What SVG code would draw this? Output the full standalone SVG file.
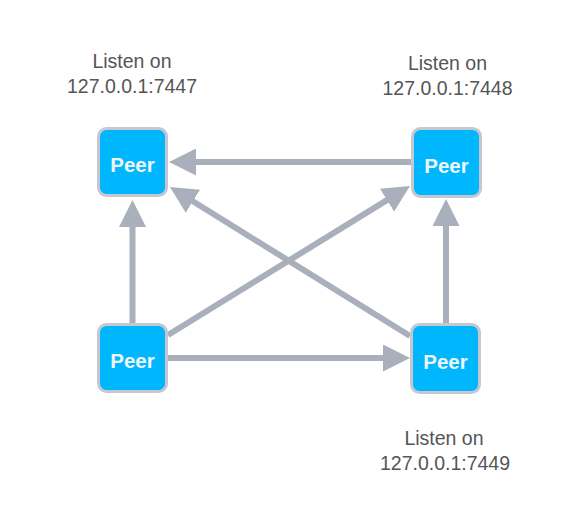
<svg xmlns="http://www.w3.org/2000/svg" width="569" height="512" viewBox="0 0 569 512">
  <style>
    .edge { stroke: #a9afbb; stroke-width: 6; fill: none; marker-end: url(#arrow); }
    .box { fill: #00b6fd; stroke: #c6c7d0; stroke-width: 3; }
    .peer { font-family: "Liberation Sans", Arial, sans-serif; font-weight: bold; font-size: 20.5px; fill: #eef6fb; text-anchor: middle; }
    .lbl { font-family: "Liberation Sans", Arial, sans-serif; font-size: 19.5px; fill: #555555; text-anchor: middle; }
  </style>
  <defs>
    <marker id="arrow" markerUnits="userSpaceOnUse" markerWidth="27" markerHeight="27" refX="10" refY="13.5" orient="auto">
      <path d="M0,0 L27,13.5 L0,27 z" fill="#a9afbb"/>
    </marker>
  </defs>
  <rect width="569" height="512" fill="#ffffff"/>
  <g id="connectors">
    <line class="edge" x1="411" y1="162" x2="186" y2="162"/>
    <line class="edge" x1="132.5" y1="323" x2="132.5" y2="217"/>
    <line class="edge" x1="446" y1="323" x2="446" y2="216"/>
    <line class="edge" x1="168" y1="358" x2="393" y2="358"/>
    <line class="edge" x1="168" y1="335" x2="395.5" y2="194.9"/>
    <line class="edge" x1="410" y1="336" x2="184.4" y2="196"/>
  </g>
  <g id="peer-tl">
    <rect class="box" x="98.5" y="128.5" width="68" height="67" rx="8"/>
    <text class="peer" x="132.5" y="172">Peer</text>
  </g>
  <g id="peer-tr">
    <rect class="box" x="412.5" y="128.5" width="68" height="68" rx="8"/>
    <text class="peer" x="446.5" y="172.5">Peer</text>
  </g>
  <g id="peer-bl">
    <rect class="box" x="98.5" y="324.5" width="68" height="67" rx="8"/>
    <text class="peer" x="132.5" y="368">Peer</text>
  </g>
  <g id="peer-br">
    <rect class="box" x="411.5" y="324.5" width="68" height="68" rx="8"/>
    <text class="peer" x="445.5" y="368.5">Peer</text>
  </g>
  <g id="label-tl">
    <text class="lbl" x="132" y="68">Listen on</text>
    <text class="lbl" x="132" y="93">127.0.0.1:7447</text>
  </g>
  <g id="label-tr">
    <text class="lbl" x="447.5" y="70">Listen on</text>
    <text class="lbl" x="447.5" y="95">127.0.0.1:7448</text>
  </g>
  <g id="label-br">
    <text class="lbl" x="444" y="444.5">Listen on</text>
    <text class="lbl" x="445" y="470">127.0.0.1:7449</text>
  </g>
</svg>
